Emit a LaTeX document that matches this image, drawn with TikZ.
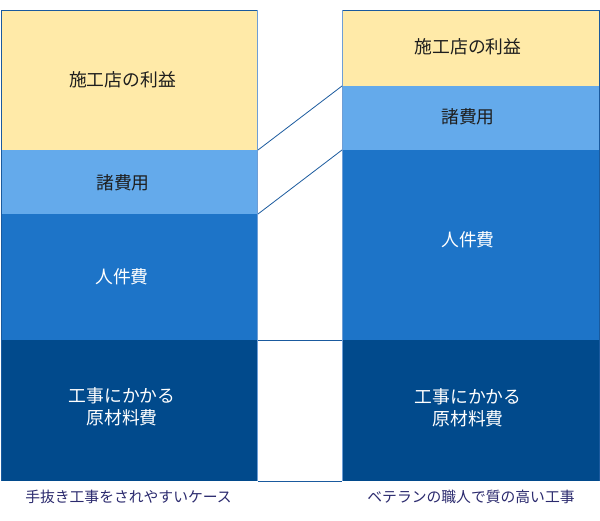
\documentclass[tikz,border=0pt]{standalone}
\usepackage{fontspec}
\setmainfont{Noto Sans CJK JP}
\definecolor{cyellow}{HTML}{FFEAA8}
\definecolor{clight}{HTML}{64AAEB}
\definecolor{cmid}{HTML}{1D74C8}
\definecolor{cdark}{HTML}{014A8C}
\definecolor{cborder}{HTML}{1A5A9E}
\definecolor{cedge}{HTML}{6E9ED6}
\definecolor{ccap}{HTML}{2B2A6E}
\definecolor{cdtext}{HTML}{1E1E1E}
\tikzset{
  seglabel/.style={font=\fontsize{17.8}{22}\selectfont, align=center, inner sep=0pt},
  darktext/.style={seglabel, text=cdtext},
  lighttext/.style={seglabel, text=white},
  caption/.style={font=\fontsize{14.8}{18}\selectfont, text=ccap, inner sep=0pt},
  link/.style={draw=cborder, line width=0.8pt}
}
\begin{document}
\begin{tikzpicture}[x=1pt,y=-1pt]
\useasboundingbox (0,0) rectangle (600,520);
\fill[white] (0,0) rectangle (600,520);
% left column
\fill[cyellow] (1,10) rectangle (257,150);
\fill[clight] (1,150) rectangle (257,214);
\fill[cmid] (1,214) rectangle (257,340);
\fill[cdark] (1,340) rectangle (257,481);
% right column
\fill[cyellow] (343,10) rectangle (599,86);
\fill[clight] (343,86) rectangle (599,150);
\fill[cmid] (343,150) rectangle (599,340);
\fill[cdark] (343,340) rectangle (599,481);
% borders
\draw[cborder, line width=1pt] (257,10) -- (1,10) -- (1,481);
\draw[cedge, line width=1pt] (257.5,10) -- (257.5,481);
\draw[cborder, line width=1pt] (343,10) -- (599,10) -- (599,481);
\draw[cedge, line width=1pt] (342.5,10) -- (342.5,481);
% named coordinates
\coordinate (lA) at (258,150);
\coordinate (lB) at (258,214);
\coordinate (rA) at (342,86);
\coordinate (rB) at (342,150);
\coordinate (gTL) at (258,340);
\coordinate (gTR) at (342,340);
\coordinate (gBL) at (258,481);
\coordinate (gBR) at (342,481);
\draw[link] (lA) -- (rA);
\draw[link] (lB) -- (rB);
\draw[cborder, line width=1pt] (gTL) -- (gTR);
\draw[cborder, line width=1pt] (gBL) -- (gBR);
% labels left
\node[darktext] (l1) at (122.5,80) {施工店の利益};
\node[darktext] (l2) at (123,183) {諸費用};
\node[lighttext] (l3) at (122,277) {人件費};
\node[lighttext] (l4) at (122,407) {工事にかかる\\原材料費};
% labels right
\node[darktext] (r1) at (468,47) {施工店の利益};
\node[darktext] (r2) at (468,117) {諸費用};
\node[lighttext] (r3) at (468,240) {人件費};
\node[lighttext] (r4) at (468,408) {工事にかかる\\原材料費};
% captions
\node[caption] (c1) at (128.5,497) {手抜き工事をされやすいケース};
\node[caption] (c2) at (471,497) {ベテランの職人で質の高い工事};
\end{tikzpicture}
\end{document}
